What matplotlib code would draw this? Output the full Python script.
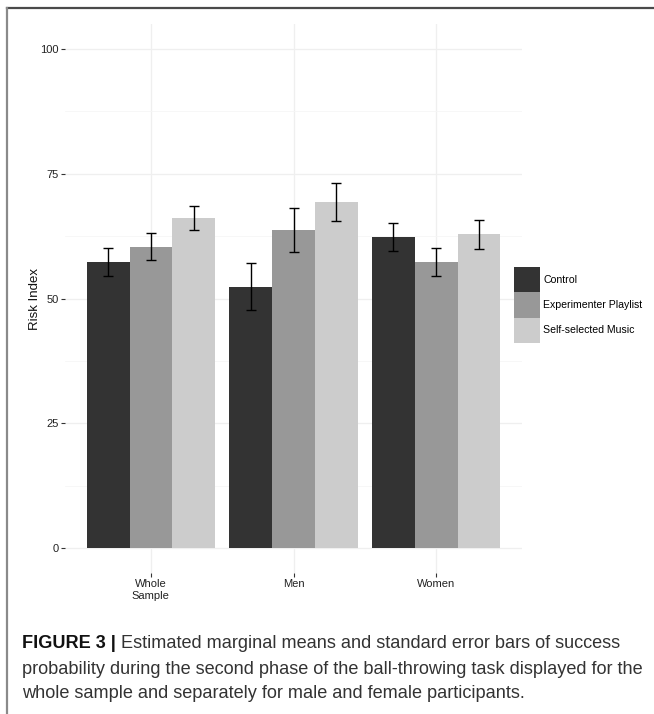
import matplotlib
matplotlib.use("Agg")
import matplotlib.pyplot as plt
from matplotlib.lines import Line2D
from matplotlib.patches import Patch
import numpy as np

# ---- data ----
categories = ["Whole\nSample", "Men", "Women"]
series = ["Control", "Experimenter Playlist", "Self-selected Music"]
means_control = [57.4, 52.4, 62.3]
means_playlist = [60.4, 63.7, 57.3]
means_self = [66.1, 69.3, 62.9]
se_control = [2.8, 4.8, 2.75]
se_playlist = [2.65, 4.4, 2.8]
se_self = [2.35, 3.8, 2.9]
yticks = [0, 25, 50, 75, 100]
caption_bold = "FIGURE 3 |"
caption_lines = [
    " Estimated marginal means and standard error bars of success",
    "probability during the second phase of the ball-throwing task displayed for the",
    "whole sample and separately for male and female participants.",
]

colors = ["#333333", "#989898", "#CCCCCC"]
FONT = "Liberation Sans"
plt.rcParams["font.family"] = [FONT, "DejaVu Sans"]

W, H = 654, 714
fig = plt.figure(figsize=(W / 100, H / 100), dpi=100)
fig.patch.set_facecolor("white")

ax = fig.add_axes([65.3 / W, 1 - 573 / H, (521.9 - 65.3) / W, (573 - 24) / H])
ax.set_facecolor("white")

x = np.arange(1, len(categories) + 1)
bw = 0.3
all_means = [means_control, means_playlist, means_self]
all_se = [se_control, se_playlist, se_self]
for i, (m, s, c, lab) in enumerate(zip(all_means, all_se, colors, series)):
    pos = x + (i - 1) * bw
    ax.bar(pos, m, width=bw, color=c, label=lab, zorder=2, linewidth=0)
    ax.errorbar(pos, m, yerr=s, fmt="none", ecolor="black", elinewidth=1.0,
                capsize=3.85, capthick=1.0, zorder=3)

ax.set_xlim(0.4, 3.6)
ax.set_ylim(-5, 105)
ax.set_xticks(x)
ax.set_xticklabels(categories, fontsize=8, color="#222222", linespacing=1.2)
ax.set_yticks(yticks)
ax.set_yticklabels([str(v) for v in yticks], fontsize=8, color="#222222")
ax.set_yticks([12.5, 37.5, 62.5, 87.5], minor=True)
ax.tick_params(axis="both", which="major", length=3, width=0.8, color="#333333", pad=1.5)
ax.tick_params(axis="y", which="minor", length=0)
ax.grid(True, which="major", color="#EFEFEF", linewidth=0.9, zorder=0)
ax.grid(True, which="minor", axis="y", color="#F6F6F6", linewidth=0.6, zorder=0)
ax.set_axisbelow(True)
for sp in ax.spines.values():
    sp.set_visible(False)
ax.set_ylabel("Risk Index", fontsize=9.5, color="#111111", labelpad=-0.5)

handles = [Patch(facecolor=c, edgecolor="none", label=l) for c, l in zip(colors, series)]
leg = fig.legend(handles=handles, loc="upper left",
                 bbox_to_anchor=(514 / W, 1 - 267 / H), frameon=False,
                 fontsize=7.6, handlelength=2.46, handleheight=3.31,
                 handletextpad=0.3, labelspacing=0.0, borderpad=0.0,
                 borderaxespad=0.0)

# frame lines
fig.add_artist(Line2D([7 / W, 1], [1 - 8 / H, 1 - 8 / H], color="#4a4a4a", lw=1.6))
fig.add_artist(Line2D([7 / W, 7 / W], [0, 1 - 8 / H], color="#8a8a8a", lw=1.6))

# caption: fit font size so that line 2 spans the target width
renderer = fig.canvas.get_renderer()
target = 643 - 22
fs = 13.0
t = fig.text(0, 0, caption_lines[1], fontsize=fs)
wpx = t.get_window_extent(renderer).width
fs = fs * target / wpx
t.remove()

x0 = 22 / W
ys = [644, 669, 693.5]
tb = fig.text(x0, 1 - ys[0] / H, caption_bold, fontsize=fs, fontweight="bold",
              va="center", ha="left", color="#111111")
bw_px = tb.get_window_extent(renderer).width
fig.text(x0 + bw_px / W, 1 - ys[0] / H, caption_lines[0], fontsize=fs,
         va="center", ha="left", color="#333333")
for yy, line in zip(ys[1:], caption_lines[1:]):
    fig.text(x0, 1 - yy / H, line, fontsize=fs, va="center", ha="left", color="#333333")

fig.savefig("out.png", dpi=100)
